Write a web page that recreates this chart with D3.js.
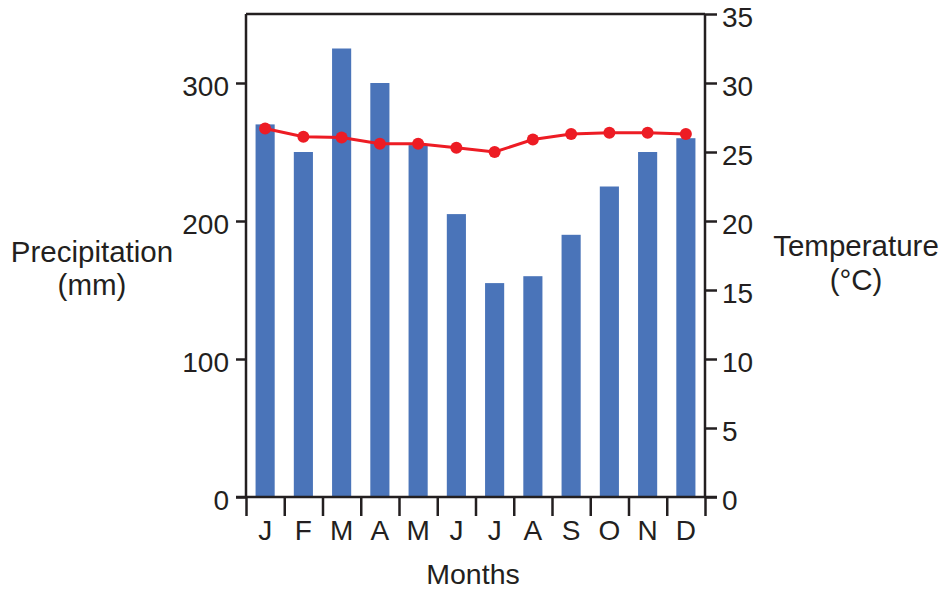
<!DOCTYPE html>
<html><head><meta charset="utf-8">
<script src="https://cdn.jsdelivr.net/npm/d3@7"></script>
<style>body{margin:0;background:#fff}svg{display:block}text{font-family:"Liberation Sans",Arial,sans-serif;fill:#231f20}</style>
</head><body>
<svg id="c" width="941" height="591"></svg>
<script>
const months = ["J","F","M","A","M","J","J","A","S","O","N","D"];
const precipitation = [270,250,325,300,255,205,155,160,190,225,250,260];
const temperature = [26.7,26.1,26.05,25.6,25.6,25.3,25.0,25.9,26.3,26.4,26.4,26.3];
const precipTicks = [0,100,200,300];
const tempTicks = [0,5,10,15,20,25,30,35];

const svg = d3.select("#c");
const L=246, R=705, T=14, B=497;
const ink="#231f20";
const x = d3.scaleBand().domain(d3.range(12)).range([L,R]).paddingInner(0.5).paddingOuter(0.25);
const xb = d3.scaleLinear().domain([0,12]).range([L,R]);
const yP = d3.scaleLinear().domain([0,350]).range([B,T]);
const yT = d3.scaleLinear().domain([0,35]).range([B,T]);

svg.append("g").selectAll("rect").data(precipitation).join("rect")
  .attr("x",(d,i)=>x(i)).attr("width",x.bandwidth())
  .attr("y",d=>yP(d)).attr("height",d=>B-yP(d)).attr("fill","#4a74b9");

svg.append("line").attr("x1",L).attr("x2",R).attr("y1",T).attr("y2",T).attr("stroke",ink).attr("stroke-width",2.5);

const fs=28;
const gl = svg.append("g").attr("transform",`translate(${L},0)`).call(d3.axisLeft(yP).tickValues(precipTicks).tickSize(10).tickPadding(7));
const gr = svg.append("g").attr("transform",`translate(${R},0)`).call(d3.axisRight(yT).tickValues(tempTicks).tickSize(12).tickPadding(5));
const gb = svg.append("g").attr("transform",`translate(0,${B})`).call(d3.axisBottom(xb).tickValues(d3.range(13)).tickSize(19).tickFormat(""));
[gl,gr,gb].forEach(g=>{
  g.attr("font-size",fs).attr("font-family","Liberation Sans, Arial, sans-serif");
  g.select(".domain").attr("stroke",ink).attr("stroke-width",2.5);
  g.selectAll(".tick line").attr("stroke",ink).attr("stroke-width",2.5);
  g.selectAll("text").attr("fill",ink).attr("dy","0.45em");
});
gl.select(".domain").attr("d",`M0,${B}V${T}`);
gr.select(".domain").attr("d",`M0,${B}V${T}`);
gb.select(".domain").attr("d",`M${L-10},0H${R+12}`);

svg.append("g").selectAll("text").data(months).join("text")
  .attr("x",(d,i)=>x(i)+x.bandwidth()/2).attr("y",540).attr("text-anchor","middle")
  .attr("font-size",fs).text(d=>d);

const line = d3.line().x((d,i)=>x(i)+x.bandwidth()/2).y(d=>yT(d));
svg.append("path").datum(temperature).attr("d",line).attr("fill","none").attr("stroke","#ed1c24").attr("stroke-width",3);
svg.append("g").selectAll("circle").data(temperature).join("circle")
  .attr("cx",(d,i)=>x(i)+x.bandwidth()/2).attr("cy",d=>yT(d)).attr("r",6).attr("fill","#ed1c24");

const lab=(t,xx,yy,f)=>svg.append("text").attr("x",xx).attr("y",yy).attr("text-anchor","middle").attr("font-size",f).text(t);
lab("Precipitation",92,262,29.5); lab("(mm)",92,295,29.5);
lab("Temperature",856,256,29.5); lab("(°C)",856,290,29.5);
lab("Months",473,584,28.5);
</script>
</body></html>
